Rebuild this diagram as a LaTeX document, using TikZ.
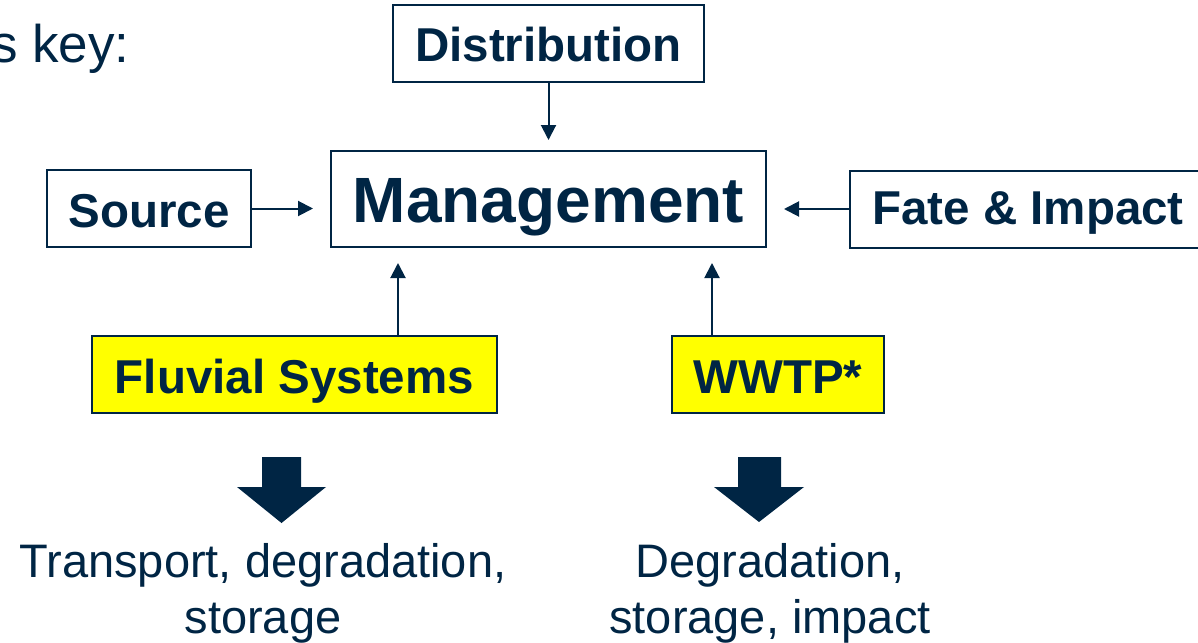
\documentclass[tikz,border=0pt]{standalone}
\usepackage{fontspec}
\setmainfont{Liberation Sans}
\usetikzlibrary{arrows.meta,calc}
\definecolor{navy}{HTML}{002544}
\definecolor{hiyel}{HTML}{FFFF00}
\tikzset{
  box/.style={draw=navy, line width=2pt, text=navy, inner sep=0pt, text height=37pt, text depth=0pt, font=\fontsize{47.5}{50}\selectfont\bfseries},
  ybox/.style={box, fill=hiyel},
  conn/.style={draw=navy, line width=2pt, -{Triangle[length=15pt,width=15pt]}},
  plain/.style={text=navy, inner sep=0pt, align=center, font=\fontsize{47}{56}\selectfont},
  blockarrow/.style={fill=navy, draw=none}
}
\begin{document}
\begin{tikzpicture}[x=1pt,y=-1pt]
\useasboundingbox (0,0) rectangle (1198,642);
\node[text=navy, inner sep=0pt, anchor=base west, font=\fontsize{53}{56}\selectfont] (key) at (-9,63) {s key:};
\node[box, minimum width=311pt, minimum height=77pt] (dist) at (548.5,43.5) {Distribution};
\node[box, minimum width=435pt, minimum height=96pt, text height=46pt, font=\fontsize{64}{66}\selectfont\bfseries] (mgmt) at (548.5,199) {Management};
\node[box, minimum width=204pt, minimum height=77pt] (src) at (149,208.5) {Source};
\node[box, minimum width=360pt, minimum height=77pt, text height=31pt, anchor=west] (fate) at (849,209) {\hspace*{-4pt}Fate \& Impact};
\node[ybox, minimum width=405pt, minimum height=77pt] (fluv) at (294.5,374.5) {Fluvial Systems};
\node[ybox, minimum width=212pt, minimum height=77pt] (wwtp) at (778,374.5) {WWTP*};
\coordinate (ca) at (398,0);
\coordinate (cb) at (712,0);
\draw[conn, shorten >=10pt] (dist.south -| mgmt.north) -- (mgmt.north);
\draw[conn, shorten >=17pt] (src.east) -- (src.east -| mgmt.west);
\draw[conn, shorten >=17pt] (fate.west) -- (fate.west -| mgmt.east);
\draw[conn, shorten >=15pt] (fluv.north -| ca) -- (mgmt.south -| ca);
\draw[conn, shorten >=15pt] (wwtp.north -| cb) -- (mgmt.south -| cb);
% block arrows
\fill[blockarrow] (262,457) -- (301,457) -- (301,487) -- (326,487) -- (281.5,523) -- (237,487) -- (262,487) -- cycle;
\fill[blockarrow] (738,457) -- (781,457) -- (781,487) -- (804,487) -- (759,522) -- (714,487) -- (738,487) -- cycle;
\node[plain, anchor=base] (t1) at (263,633) {Transport, degradation,\\storage};
\node[plain, anchor=base] (t2) at (770,633) {Degradation,\\storage, impact};
\end{tikzpicture}
\end{document}
